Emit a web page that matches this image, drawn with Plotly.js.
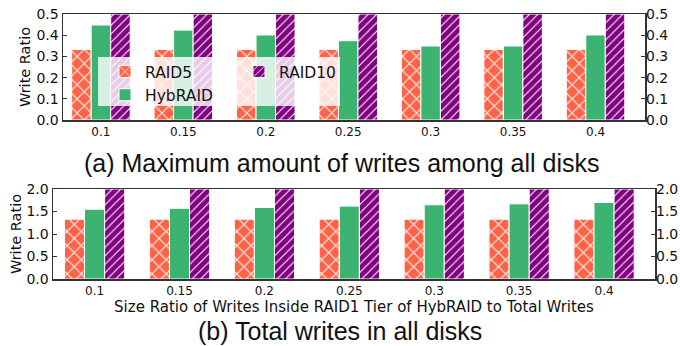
<!DOCTYPE html>
<html>
<head>
<meta charset="utf-8">
<script src="https://cdn.plot.ly/plotly-3.0.1.min.js"></script>
<style>html,body{margin:0;padding:0;background:#fff}#chart{width:680px;height:346px}</style>
</head>
<body>
<div id="chart"></div>
<script>
// ---- data ----
const categories = ["0.1", "0.15", "0.2", "0.25", "0.3", "0.35", "0.4"];
// (a) Maximum amount of writes among all disks
const maxRAID5   = [0.333, 0.333, 0.333, 0.333, 0.333, 0.333, 0.333];
const maxHybRAID = [0.448, 0.424, 0.401, 0.374, 0.349, 0.349, 0.401];
const maxRAID10  = [0.5, 0.5, 0.5, 0.5, 0.5, 0.5, 0.5];
// (b) Total writes in all disks
const totRAID5   = [1.33, 1.33, 1.33, 1.33, 1.33, 1.33, 1.33];
const totHybRAID = [1.55, 1.57, 1.59, 1.62, 1.65, 1.67, 1.70];
const totRAID10  = [2.0, 2.0, 2.0, 2.0, 2.0, 2.0, 2.0];
const topTicks = [0, 0.1, 0.2, 0.3, 0.4, 0.5];
const botTicks = [0, 0.5, 1.0, 1.5, 2.0];

const FONT = "DejaVu Sans";
const C_R5 = "#FF6347", C_HY = "#3CB371", C_R10 = "#800080";

function bars(name, y, xa, ya, color, shape, legend, show) {
  const m = {color: color, line: {color: "white", width: 1}};
  if (shape) m.pattern = {shape: shape, fgcolor: "white", bgcolor: color, size: shape === "x" ? 10 : 6, solidity: 0.18, fillmode: "replace"};
  return {type: "bar", name: name, x: categories, y: y, xaxis: xa, yaxis: ya,
          marker: m, showlegend: show, legend: legend, hoverinfo: "skip"};
}

const data = [
  bars("RAID5",   maxRAID5,   "x",  "y",  C_R5,  "x", "legend",  true),
  bars("HybRAID", maxHybRAID, "x",  "y",  C_HY,  "",  "legend",  true),
  bars("RAID10",  maxRAID10,  "x",  "y",  C_R10, "/", "legend2", true),
  bars("RAID5",   totRAID5,   "x2", "y2", C_R5,  "x", "legend",  false),
  bars("HybRAID", totHybRAID, "x2", "y2", C_HY,  "",  "legend",  false),
  bars("RAID10",  totRAID10,  "x2", "y2", C_R10, "/", "legend2", false)
];

const W = 680, H = 346;
const px = v => v / W, py = v => 1 - v / H;

const spine = {showline: true, linecolor: "#333", linewidth: 1.5, mirror: true, zeroline: false, showgrid: false};
function yax(dom, range, ticks, side, overlay) {
  const a = Object.assign({}, spine, {
    domain: dom, range: range, tickvals: ticks, ticktext: ticks.map(v => v.toFixed(1)),
    ticks: "inside", ticklen: 4, tickcolor: "#333", tickfont: {family: FONT, size: 14, color: "#111"},
    fixedrange: true
  });
  if (side) { a.side = side; a.overlaying = overlay; a.showline = false; }
  return a;
}

const layout = {
  width: W, height: H,
  margin: {l: 0, r: 0, t: 0, b: 0},
  paper_bgcolor: "white", plot_bgcolor: "white",
  barmode: "group", bargap: 0.29, bargroupgap: 0,
  font: {family: FONT, color: "#111"},
  xaxis: Object.assign({}, spine, {domain: [px(63), px(645)], anchor: "y", type: "category",
    range: [-0.46, 6.6], ticks: "", tickfont: {family: FONT, size: 12, color: "#111"}}),
  yaxis: Object.assign(yax([py(120), py(14)], [0, 0.5], topTicks), {anchor: "x",
    title: {text: "Write Ratio", font: {family: FONT, size: 14.5, color: "#111"}, standoff: 2}}),
  yaxis3: Object.assign(yax([py(120), py(14)], [0, 0.5], topTicks, "right", "y"), {anchor: "x"}),
  xaxis2: Object.assign({}, spine, {domain: [px(53), px(655)], anchor: "y2", type: "category",
    range: [-0.49, 6.6], ticks: "", tickfont: {family: FONT, size: 12, color: "#111"},
    title: {text: "Size Ratio of Writes Inside RAID1 Tier of HybRAID to Total Writes",
            font: {family: FONT, size: 15, color: "#111"}, standoff: 4}}),
  yaxis2: Object.assign(yax([py(279), py(189)], [0, 2], botTicks), {anchor: "x2",
    title: {text: "Write Ratio", font: {family: FONT, size: 14.5, color: "#111"}, standoff: 1}}),
  yaxis4: Object.assign(yax([py(279), py(189)], [0, 2], botTicks, "right", "y2"), {anchor: "x2"}),
  legend: {x: px(105), y: py(55), xanchor: "left", yanchor: "top", bgcolor: "rgba(0,0,0,0)",
    font: {family: FONT, size: 15.5, color: "#111"}, tracegroupgap: 0, itemwidth: 30},
  legend2: {x: px(239), y: py(55), xanchor: "left", yanchor: "top", bgcolor: "rgba(0,0,0,0)",
    font: {family: FONT, size: 15.5, color: "#111"}, itemwidth: 30},
  shapes: [{type: "rect", xref: "paper", yref: "paper", x0: px(98), x1: px(340), y0: py(106), y1: py(57),
    fillcolor: "rgba(255,255,255,0.8)", line: {width: 0}, layer: "above"}],
  annotations: [
    {text: "(a) Maximum amount of writes among all disks", xref: "paper", yref: "paper",
     x: px(341), y: py(163), xanchor: "center", yanchor: "middle", showarrow: false,
     font: {family: "Liberation Sans", size: 25, color: "#111"}},
    {text: "(b) Total writes in all disks", xref: "paper", yref: "paper",
     x: px(340), y: py(331), xanchor: "center", yanchor: "middle", showarrow: false,
     font: {family: "Liberation Sans", size: 25, color: "#111"}}
  ]
};

// Dummy invisible traces so right-side axes render
data.push({type: "scatter", x: [categories[0]], y: [0], xaxis: "x", yaxis: "y3", showlegend: false, mode: "none", hoverinfo: "skip"});
data.push({type: "scatter", x: [categories[0]], y: [0], xaxis: "x2", yaxis: "y4", showlegend: false, mode: "none", hoverinfo: "skip"});

Plotly.newPlot("chart", data, layout, {staticPlot: true, displayModeBar: false});
</script>
</body>
</html>
